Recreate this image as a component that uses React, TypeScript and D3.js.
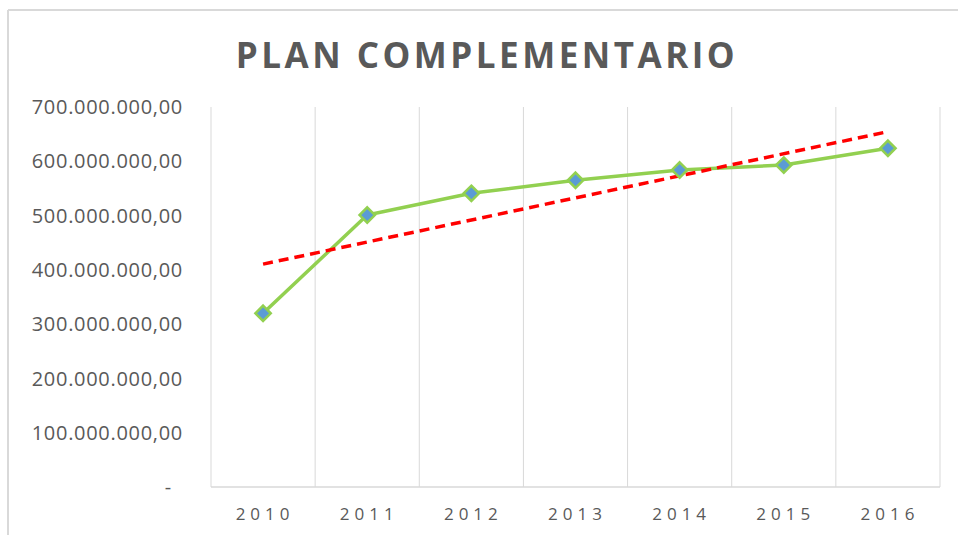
import React from "react";
import * as d3 from "d3";

// data
const years = ["2010", "2011", "2012", "2013", "2014", "2015", "2016"];
const values = [320e6, 501e6, 541e6, 565e6, 584e6, 593e6, 624e6];
const yTicks = [0, 100e6, 200e6, 300e6, 400e6, 500e6, 600e6, 700e6];
const title = "PLAN COMPLEMENTARIO";

const W = 958;
const H = 535;
const margin = { top: 107, right: 18, bottom: 48, left: 211 };

const esLocale = d3.formatLocale({
  decimal: ",",
  thousands: ".",
  grouping: [3],
  currency: ["", ""],
});
const fmt = esLocale.format(",.2f");

export default function App() {
  const x = d3
    .scaleBand<string>()
    .domain(years)
    .range([margin.left, W - margin.right])
    .padding(0);
  const y = d3
    .scaleLinear()
    .domain([0, 700e6])
    .range([H - margin.bottom, margin.top]);

  const cx = (yr: string) => (x(yr) ?? 0) + x.bandwidth() / 2;

  const pts = years.map((yr, i) => ({ yr, v: values[i] }));
  const line = d3
    .line<{ yr: string; v: number }>()
    .x((d) => cx(d.yr))
    .y((d) => y(d.v));

  // linear trendline like excel
  const n = values.length;
  const idx = d3.range(n);
  const mx = d3.mean(idx) as number;
  const my = d3.mean(values) as number;
  const slope =
    d3.sum(idx, (i) => (i - mx) * (values[i] - my)) /
    d3.sum(idx, (i) => (i - mx) * (i - mx));
  const trend = (i: number) => my + slope * (i - mx);

  const bottom = H - margin.bottom;
  const boundaries = [...years.map((yr) => x(yr) ?? 0), W - margin.right];
  const grey = "#595959";

  const diamond = d3.symbol(d3.symbolDiamond2, 150)();

  return (
    <div style={{ position: "absolute", left: 0, top: 0 }}>
      <svg width={W} height={H} style={{ display: "block", background: "#fff" }}>
        {/* chart frame */}
        <line x1={8} x2={W} y1={10} y2={10} stroke="#D9D9D9" strokeWidth={2} />
        <line x1={8} x2={8} y1={10} y2={H} stroke="#D9D9D9" strokeWidth={2} />

        <text
          x={487}
          y={68}
          textAnchor="middle"
          fontFamily="'Open Sans', sans-serif"
          fontWeight="bold"
          fontSize={35}
          letterSpacing={3.5}
          fill={grey}
        >
          {title}
        </text>

        {/* vertical gridlines */}
        {boundaries.map((bx, i) => (
          <line key={i} x1={bx} x2={bx} y1={margin.top} y2={bottom} stroke="#D9D9D9" strokeWidth={1} />
        ))}
        <line x1={margin.left} x2={W - margin.right} y1={bottom} y2={bottom} stroke="#D9D9D9" strokeWidth={1.5} />

        {/* y labels */}
        {yTicks.map((t) => (
          <text
            key={t}
            x={t === 0 ? 172 : 183}
            y={y(t)}
            dy="0.36em"
            textAnchor="end"
            fontFamily="'Open Sans', sans-serif"
            fontSize={20}
            letterSpacing={0.7}
            fill={grey}
          >
            {t === 0 ? "-" : fmt(t)}
          </text>
        ))}

        {/* x labels */}
        {years.map((yr) => (
          <text
            key={yr}
            x={cx(yr) + 2}
            y={520}
            textAnchor="middle"
            fontFamily="'Open Sans', sans-serif"
            fontSize={17}
            letterSpacing={5}
            fill={grey}
          >
            {yr}
          </text>
        ))}

        {/* series */}
        <path d={line(pts) ?? ""} fill="none" stroke="#92D050" strokeWidth={3.5} strokeLinejoin="round" />

        <line
          x1={cx(years[0])}
          y1={y(trend(0))}
          x2={cx(years[n - 1])}
          y2={y(trend(n - 1))}
          stroke="#FF0000"
          strokeWidth={3.5}
          strokeDasharray="10 6"
        />

        {pts.map((d) => (
          <path
            key={d.yr}
            d={diamond ?? ""}
            transform={`translate(${cx(d.yr)},${y(d.v)})`}
            fill="#5B9BD5"
            stroke="#92D050"
            strokeWidth={2.5}
          />
        ))}
      </svg>
    </div>
  );
}
